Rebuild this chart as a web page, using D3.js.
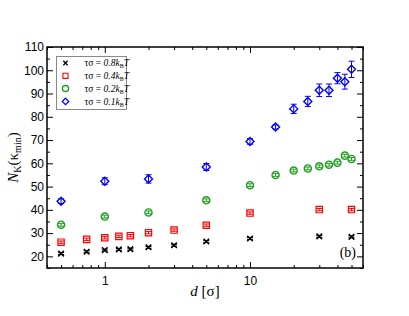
<!DOCTYPE html>
<html>
<head>
<meta charset="utf-8">
<script src="https://cdn.jsdelivr.net/npm/d3@7"></script>
<style>
  body { margin: 0; background: #fff; }
  svg { display: block; font-family: "Liberation Serif", "DejaVu Serif", serif; }
</style>
</head>
<body>
<div id="chart"></div>
<script>
// values
const dAll = [0.5, 0.75, 1, 1.25, 1.5, 2, 3, 5, 10, 30, 50];
const tau08 = [21.2, 22.0, 22.7, 23.0, 23.1, 23.9, 24.8, 26.4, 27.7, 28.6, 28.4];
const tau04 = [26.1, 27.3, 28.0, 28.6, 28.9, 30.2, 31.3, 33.4, 38.6, 40.1, 40.1];

const dGreen = [0.5, 1, 2, 5, 10, 15, 20, 25, 30, 35, 40, 45, 50];
const tau02 = [33.6, 37.1, 38.9, 44.1, 50.6, 55.0, 56.9, 57.8, 58.7, 59.4, 60.3, 63.3, 61.9];

const dBlue = [0.5, 1, 2, 5, 10, 15, 20, 25, 30, 35, 40, 45, 50];
const tau01 = [43.7, 52.3, 53.3, 58.4, 69.4, 75.6, 83.4, 86.6, 91.4, 91.4, 96.6, 95.1, 100.4];
const tau01Err = [1.0, 1.5, 1.8, 1.5, 1.2, 0.9, 2.0, 2.2, 2.7, 2.7, 2.4, 3.2, 3.5];

const yTicks = [20, 30, 40, 50, 60, 70, 80, 90, 100, 110];

const width = 409, height = 316;
const margin = {top: 47, right: 46, bottom: 48, left: 47};
const _width = width - margin.left - margin.right;
const _height = height - margin.top - margin.bottom;

const svg = d3.select('#chart').append('svg')
  .attr('width', width)
  .attr('height', height);

const g = svg.append('g')
  .attr('transform', `translate(${margin.left},${margin.top})`);

const xScale = d3.scaleLog().domain([0.4, 60]).range([0, _width]);
const yScale = d3.scaleLinear().domain([15, 110]).range([_height, 0]);

// minor ticks for the log axis
const xMinor = [];
for (let dec of [0.1, 1, 10]) {
  for (let k = 1; k < 10; k++) {
    const v = +(dec * k).toFixed(3);
    if (v >= 0.4 && v <= 60 && v !== 1 && v !== 10) xMinor.push(v);
  }
}
const yMinor = d3.range(15, 111, 5).filter(v => v % 10 !== 0);

function axisGroup(axis, tx, ty) {
  const a = g.append('g').attr('transform', `translate(${tx},${ty})`).call(axis);
  a.select('.domain').remove();
  a.selectAll('line').attr('stroke', '#000').attr('stroke-width', 1);
  a.selectAll('text').attr('font-size', 12).attr('fill', '#000');
  return a;
}

// bottom
axisGroup(d3.axisBottom(xScale).tickValues([1, 10]).tickSize(-6).tickPadding(4).tickFormat(d3.format('d')), 0, _height)
  .selectAll('text').attr('dy', '1.1em');
axisGroup(d3.axisBottom(xScale).tickValues(xMinor).tickSize(-3).tickFormat(''), 0, _height);
// top
axisGroup(d3.axisTop(xScale).tickValues([1, 10]).tickSize(-6).tickFormat(''), 0, 0);
axisGroup(d3.axisTop(xScale).tickValues(xMinor).tickSize(-3).tickFormat(''), 0, 0);
// left
axisGroup(d3.axisLeft(yScale).tickValues(yTicks).tickSize(-6).tickPadding(4), 0, 0)
  .selectAll('text').attr('x', -3);
axisGroup(d3.axisLeft(yScale).tickValues(yMinor).tickSize(-3).tickFormat(''), 0, 0);
// right
axisGroup(d3.axisRight(yScale).tickValues(yTicks).tickSize(-6).tickFormat(''), _width, 0);
axisGroup(d3.axisRight(yScale).tickValues(yMinor).tickSize(-3).tickFormat(''), _width, 0);

// frame
g.append('rect')
  .attr('width', _width).attr('height', _height)
  .attr('fill', 'none').attr('stroke', '#000').attr('stroke-width', 1.5);

const green = '#1e9e1e';

// error bars
function errBars(xs, ys, es, color) {
  const eg = g.append('g').attr('stroke', color).attr('stroke-width', 1);
  xs.forEach((x, i) => {
    const cx = xScale(x), y1 = yScale(ys[i] - es[i]), y2 = yScale(ys[i] + es[i]);
    eg.append('line').attr('x1', cx).attr('x2', cx).attr('y1', y1).attr('y2', y2);
    eg.append('line').attr('x1', cx - 3).attr('x2', cx + 3).attr('y1', y1).attr('y2', y1);
    eg.append('line').attr('x1', cx - 3).attr('x2', cx + 3).attr('y1', y2).attr('y2', y2);
  });
}
errBars(dAll, tau08, tau08.map(() => 0.4), '#000');
errBars(dAll, tau04, tau04.map(() => 0.5), 'red');
errBars(dGreen, tau02, tau02.map(() => 0.6), green);
errBars(dBlue, tau01, tau01Err, 'blue');

// square diamond (rotated square)
const diamond = r => `M0,${-r}L${r},0L0,${r}L${-r},0Z`;

const symX = d3.symbol().type(d3.symbolX).size(22);
const symSq = d3.symbol().type(d3.symbolSquare).size(40);
const symCi = d3.symbol().type(d3.symbolCircle).size(40);
const symDi = diamond(4);

function markers(xs, ys, sym, color, sw) {
  g.append('g').selectAll('path')
    .data(xs)
    .enter()
    .append('path')
    .attr('d', sym)
    .attr('transform', (d, i) => `translate(${xScale(d)},${yScale(ys[i])})`)
    .attr('fill', 'none')
    .attr('stroke', color)
    .attr('stroke-width', sw);
}
markers(dAll, tau08, symX, '#000', 1.5);
markers(dAll, tau04, symSq, 'red', 1.2);
markers(dGreen, tau02, symCi, green, 1.4);
markers(dBlue, tau01, symDi, 'blue', 1.4);

// legend
const leg = svg.append('g').attr('transform', 'translate(56.5,56.5)');
leg.append('rect').attr('width', 70).attr('height', 53)
  .attr('fill', '#fff').attr('stroke', '#888').attr('stroke-width', 1);
const legItems = [
  {sym: d3.symbol().type(d3.symbolX).size(14)(), color: '#000', sw: 1.3, t: '0.8'},
  {sym: d3.symbol().type(d3.symbolSquare).size(26)(), color: 'red', sw: 1.1, t: '0.4'},
  {sym: d3.symbol().type(d3.symbolCircle).size(30)(), color: green, sw: 1.3, t: '0.2'},
  {sym: diamond(3.2), color: 'blue', sw: 1.3, t: '0.1'}
];
legItems.forEach((it, i) => {
  const y = 6.5 + i * 12.8;
  leg.append('path').attr('d', it.sym)
    .attr('transform', `translate(9,${y})`)
    .attr('fill', 'none').attr('stroke', it.color).attr('stroke-width', it.sw);
  const txt = leg.append('text').attr('x', 28).attr('y', y + 3.3)
    .attr('font-size', 9.5).attr('fill', '#000');
  txt.append('tspan').text('τσ = ');
  txt.append('tspan').attr('font-style', 'italic').text(it.t + 'k');
  txt.append('tspan').attr('font-size', 6).attr('dy', 2).text('B');
  txt.append('tspan').attr('font-style', 'italic').attr('dy', -2).text('T');
});

// (b)
svg.append('text').attr('x', 356).attr('y', 257).attr('text-anchor', 'end')
  .attr('font-size', 14).text('(b)');

// axis labels
const xl = svg.append('text').attr('x', margin.left + _width / 2).attr('y', 296)
  .attr('text-anchor', 'middle').attr('font-size', 15);
xl.append('tspan').attr('font-style', 'italic').text('d');
xl.append('tspan').text(' [σ]');

const yl = svg.append('text')
  .attr('transform', `translate(18,${margin.top + _height / 2}) rotate(-90)`)
  .attr('text-anchor', 'middle').attr('font-size', 15);
yl.append('tspan').attr('font-style', 'italic').text('N');
yl.append('tspan').attr('font-size', 10).attr('dy', 3).text('K');
yl.append('tspan').attr('dy', -3).text('(κ');
yl.append('tspan').attr('font-size', 10).attr('dy', 3).text('min');
yl.append('tspan').attr('dy', -3).text(')');
</script>
</body>
</html>
